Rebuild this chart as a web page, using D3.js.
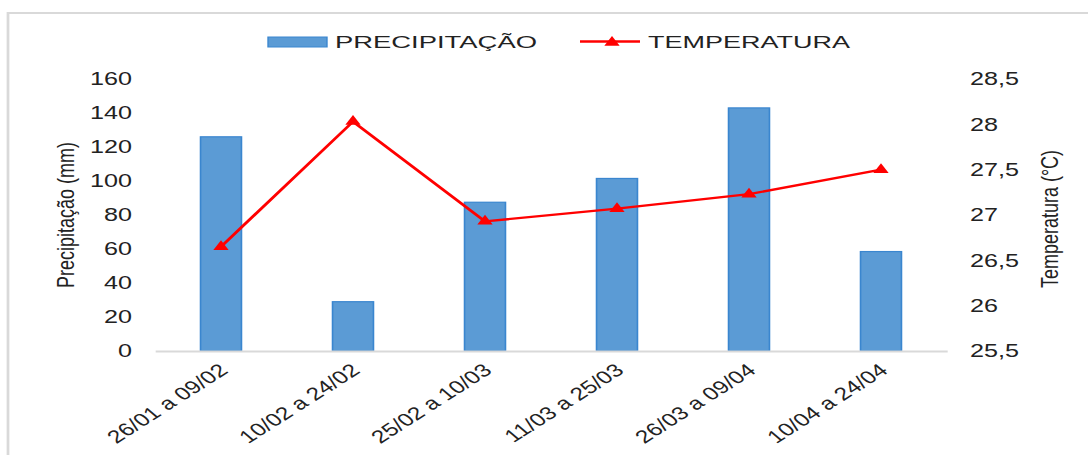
<!DOCTYPE html>
<html>
<head>
<meta charset="utf-8">
<script src="https://cdn.jsdelivr.net/npm/d3@7"></script>
<style>
  body { margin: 0; background: #fff; }
  text { font-family: "Liberation Sans", Arial, sans-serif; fill: #222; }
</style>
</head>
<body>
<svg id="chart" width="1088" height="455"></svg>
<script>
// chart data
const categories = ["26/01 a 09/02", "10/02 a 24/02", "25/02 a 10/03", "11/03 a 25/03", "26/03 a 09/04", "10/04 a 24/04"];
const precipitacao = [126, 29, 87.5, 101.5, 143, 58.5];
const temperatura = [26.65, 28.03, 26.93, 27.07, 27.23, 27.5];
const leftTicks = [0, 20, 40, 60, 80, 100, 120, 140, 160];
const rightTicks = [25.5, 26, 26.5, 27, 27.5, 28, 28.5];

// the original picture is stretched sideways, so draw in a narrower space and scale x
const sx = 1.36;
const barColor = "#5b9bd5", barStroke = "#3a86cf", lineColor = "#ff0000";

var svg = d3.select("#chart");
var g = svg.append("g").attr("transform", "scale(" + sx + ",1)");

// outer frame
g.append("rect")
  .attr("x", 8 / sx).attr("y", 13)
  .attr("width", 1200 / sx).attr("height", 500)
  .attr("fill", "none").attr("stroke", "#d9d9d9").attr("stroke-width", 2);

var x = d3.scaleBand().domain(categories)
  .range([155 / sx, 947 / sx])
  .paddingInner(0.69).paddingOuter(0.345);
var yL = d3.scaleLinear().domain([0, 160]).range([351, 79]);
var yR = d3.scaleLinear().domain([25.5, 28.5]).range([351, 79]);

// bars
g.selectAll("rect.bar").data(precipitacao).enter().append("rect")
  .attr("class", "bar")
  .attr("x", (d, i) => x(categories[i]))
  .attr("y", d => yL(d))
  .attr("width", x.bandwidth())
  .attr("height", d => yL(0) - yL(d))
  .attr("fill", barColor)
  .attr("stroke", barStroke).attr("stroke-width", 1.2);

// x axis
var xAxis = g.append("g").attr("transform", "translate(0," + yL(0) + ")")
  .call(d3.axisBottom(x).tickSize(0).tickSizeOuter(0));
xAxis.select(".domain").attr("stroke", "#d9d9d9").attr("stroke-width", 2);
xAxis.selectAll("text")
  .attr("x", 0).attr("y", 0).attr("dy", 0)
  .attr("text-anchor", "end")
  .attr("transform", "translate(6,21) rotate(-41)")
  .style("font-size", "18px").attr("fill", "#222");

// left axis
var axL = g.append("g").attr("transform", "translate(" + (132 / sx) + ",0)")
  .call(d3.axisLeft(yL).tickValues(leftTicks).tickSize(0).tickPadding(0));
axL.select(".domain").remove();
axL.selectAll("text").style("font-size", "18.5px").attr("fill", "#222");

// right axis
var axR = g.append("g").attr("transform", "translate(" + (970 / sx) + ",0)")
  .call(d3.axisRight(yR).tickValues(rightTicks).tickSize(0).tickPadding(0)
    .tickFormat(d => String(d).replace(".", ",")));
axR.select(".domain").remove();
axR.selectAll("text").style("font-size", "18.5px").attr("fill", "#222");

// axis titles
g.append("text")
  .attr("transform", "translate(" + (65 / sx) + ",215) rotate(-90)")
  .attr("text-anchor", "middle").attr("dy", "0.35em")
  .style("font-size", "18px")
  .text("Precipitação (mm)");
g.append("text")
  .attr("transform", "translate(" + (1049 / sx) + ",219) rotate(-90)")
  .attr("text-anchor", "middle").attr("dy", "0.35em")
  .style("font-size", "18px")
  .text("Temperatura (°C)");

// temperature line
var cx = (d, i) => x(categories[i]) + x.bandwidth() / 2;
var line = d3.line().x(cx).y(d => yR(d));
g.append("path").datum(temperatura)
  .attr("fill", "none").attr("stroke", lineColor)
  .attr("stroke-width", 2.4).attr("stroke-linejoin", "round")
  .attr("d", line);
var tri = d3.symbol().type(d3.symbolTriangle).size(55);
g.selectAll("path.marker").data(temperatura).enter().append("path")
  .attr("class", "marker")
  .attr("transform", (d, i) => "translate(" + cx(d, i) + "," + yR(d) + ")")
  .attr("d", tri).attr("fill", lineColor);

// legend
var leg = g.append("g");
leg.append("rect")
  .attr("x", 268 / sx).attr("y", 37)
  .attr("width", 59 / sx).attr("height", 10)
  .attr("fill", barColor).attr("stroke", barStroke).attr("stroke-width", 1);
leg.append("text")
  .attr("x", 335 / sx).attr("y", 48.5)
  .attr("textLength", 202 / sx).attr("lengthAdjust", "spacingAndGlyphs")
  .style("font-size", "16.5px")
  .text("PRECIPITAÇÃO");
leg.append("line")
  .attr("x1", 580 / sx).attr("x2", 640 / sx)
  .attr("y1", 41.5).attr("y2", 41.5)
  .attr("stroke", lineColor).attr("stroke-width", 2.4);
leg.append("path")
  .attr("transform", "translate(" + (612 / sx) + ",42.5)")
  .attr("d", tri).attr("fill", lineColor);
leg.append("text")
  .attr("x", 648 / sx).attr("y", 48.5)
  .attr("textLength", 202 / sx).attr("lengthAdjust", "spacingAndGlyphs")
  .style("font-size", "16.5px")
  .text("TEMPERATURA");
</script>
</body>
</html>
